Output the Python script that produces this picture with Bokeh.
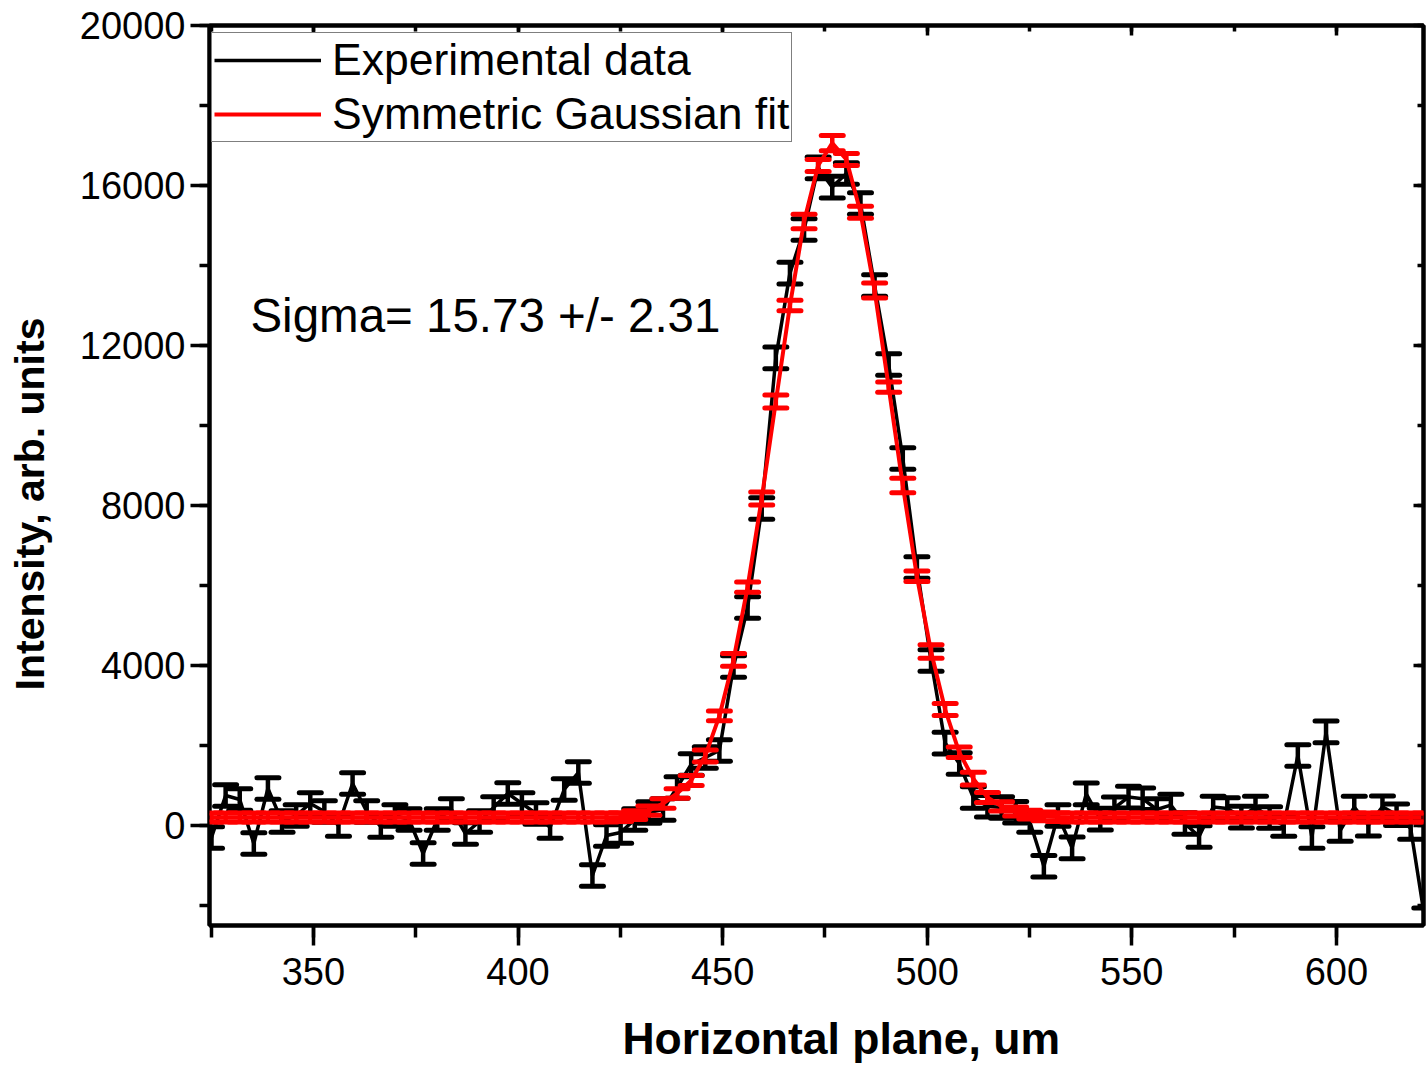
from bokeh.plotting import figure
from bokeh.models import (Range1d, LinearAxis, Whisker, TeeHead, ColumnDataSource,
                          Legend, LegendItem, Label, SingleIntervalTicker,
                          CustomJSTickFormatter)
from bokeh.embed import file_html
from bokeh.resources import INLINE

# ---------------- data ----------------
x_um = [325.09, 328.54, 331.99, 335.43, 338.88, 342.33, 345.78, 349.23, 352.67, 356.12,
        359.57, 363.02, 366.47, 369.91, 373.36, 376.81, 380.26, 383.71, 387.15, 390.60,
        394.05, 397.50, 400.95, 404.39, 407.84, 411.29, 414.74, 418.19, 421.63, 425.08,
        428.53, 431.98, 435.43, 438.87, 442.32, 445.77, 449.22, 452.67, 456.11, 459.56,
        463.01, 466.46, 469.91, 473.35, 476.80, 480.25, 483.70, 487.15, 490.59, 494.04,
        497.49, 500.94, 504.39, 507.83, 511.28, 514.73, 518.18, 521.63, 525.07, 528.52,
        531.97, 535.42, 538.87, 542.31, 545.76, 549.21, 552.66, 556.11, 559.55, 563.00,
        566.45, 569.90, 573.35, 576.79, 580.24, 583.69, 587.14, 590.59, 594.03, 597.48,
        600.93, 604.38, 607.83, 611.27, 614.72, 618.17, 621.62]

experimental = [-300, 750, 650, -450, 925, 100, 250, 550, 350, 0,
                1050, 350, -25, 250, 150, -700, 150, 400, -200, 100,
                450, 800, 550, 300, -50, 900, 1325, -1250, -250, -175,
                150, 325, 400, 950, 1525, 1700, 1875, 3975, 5450, 7925,
                11690, 13810, 14900, 16440, 15960, 16300, 15550, 13500, 11525, 9175,
                6450, 4125, 2060, 1550, 700, 480, 450, 330, 100, -1020,
                250, -560, 790, 160, 440, 710, 670, 400, 510, 50,
                -275, 460, 425, 210, 460, 200, 0, 1750, -300, 2340,
                -125, 460, 10, 470, 270, -75, -2330]
experimental_err = [270] * len(x_um)

gauss_fit = [200, 200, 200, 200, 200, 200, 200, 200, 200, 200,
             200, 200, 200, 200, 200, 200, 200, 200, 200, 200,
             200, 200, 200, 200, 200, 200, 200, 200, 200, 210,
             260, 370, 550, 800, 1125, 1740, 2740, 4140, 5960, 8175,
             10600, 13000, 15100, 16500, 17060, 16650, 15330, 13375, 10960, 8500,
             6230, 4350, 2900, 1830, 1170, 700, 480, 350, 270, 230,
             210, 200, 200, 200, 200, 200, 200, 200, 200, 200,
             200, 200, 200, 200, 200, 200, 200, 200, 200, 200,
             200, 200, 200, 200, 200, 200, 200]
gauss_err = [110, 110, 110, 110, 110, 110, 110, 110, 110, 110,
             110, 110, 110, 110, 110, 110, 110, 110, 110, 110,
             110, 110, 110, 110, 110, 110, 110, 110, 110, 110,
             110, 115, 120, 120, 125, 150, 120, 160, 130, 160,
             160, 130, 180, 150, 190, 150, 150, 190, 130, 180,
             130, 170, 150, 130, 160, 125, 115, 110, 110, 110,
             110, 110, 110, 110, 110, 110, 110, 110, 110, 110,
             110, 110, 110, 110, 110, 110, 110, 110, 110, 110,
             110, 110, 110, 110, 110, 110, 110]

x_title = "Horizontal plane, um"
y_title = "Intensity, arb. units"
legend_labels = ["Experimental data", "Symmetric Gaussian fit"]
note_text = "Sigma= 15.73 +/- 2.31"

# ---------------- figure ----------------
FONT = "Liberation Sans"
NBSP = "\u00a0"
p = figure(width=1427, height=1066, output_backend="svg", toolbar_location=None,
           x_range=Range1d(324.6, 621.3), y_range=Range1d(-2500, 20000),
           min_border_left=209, min_border_top=25, min_border_right=4,
           min_border_bottom=141)
p.grid.visible = False
p.outline_line_color = "black"
p.outline_line_width = 4
p.background_fill_color = "white"
p.border_fill_color = "white"

xt = SingleIntervalTicker(interval=50, num_minor_ticks=2)
yt = SingleIntervalTicker(interval=4000, num_minor_ticks=2)

xa = p.xaxis[0]
xa.ticker = xt
# leading no-break spaces nudge the centred title to the right, as in the original
xa.axis_label = NBSP * 4 + x_title
ya = p.yaxis[0]
ya.ticker = yt
# trailing no-break spaces nudge the rotated title downwards, as in the original
ya.axis_label = y_title + NBSP * 5

for ax in (xa, ya):
    ax.axis_line_width = 4
    ax.major_tick_line_width = 3.5
    ax.minor_tick_line_width = 3.5
    ax.major_tick_in = 0
    ax.minor_tick_in = 0
    ax.major_label_text_font = FONT
    ax.major_label_text_font_size = "38px"
    ax.major_label_text_color = "black"
    ax.axis_label_text_font = FONT
    ax.axis_label_text_font_style = "bold"
    ax.axis_label_text_color = "black"

xa.axis_label_text_font_size = "44.5px"
ya.axis_label_text_font_size = "41px"
xa.major_tick_out = 20
xa.minor_tick_out = 12
xa.major_label_standoff = 12
xa.axis_label_standoff = 26
ya.major_tick_out = 19
ya.minor_tick_out = 10
ya.major_label_standoff = 5
ya.axis_label_standoff = 24

blank = CustomJSTickFormatter(code="return ''")
top = LinearAxis(ticker=xt, formatter=blank, major_label_standoff=0,
                 major_tick_in=10, major_tick_out=0, minor_tick_in=6, minor_tick_out=0,
                 axis_line_width=4, major_tick_line_width=3.5, minor_tick_line_width=3.5)
right = LinearAxis(ticker=yt, formatter=blank, major_label_standoff=0,
                   major_tick_in=10, major_tick_out=0, minor_tick_in=6, minor_tick_out=0,
                   axis_line_width=4, major_tick_line_width=3.5, minor_tick_line_width=3.5)
p.add_layout(top, "above")
p.add_layout(right, "right")

src_e = ColumnDataSource(dict(
    x=x_um, y=experimental,
    lo=[v - e for v, e in zip(experimental, experimental_err)],
    hi=[v + e for v, e in zip(experimental, experimental_err)]))
src_g = ColumnDataSource(dict(
    x=x_um, y=gauss_fit,
    lo=[v - e for v, e in zip(gauss_fit, gauss_err)],
    hi=[v + e for v, e in zip(gauss_fit, gauss_err)]))

RED = "#ff0000"
r_e = p.line("x", "y", source=src_e, line_color="black", line_width=3.5, level="image")
w_e = Whisker(source=src_e, base="x", upper="hi", lower="lo", dimension="height",
              line_color="black", line_width=4.5, level="underlay",
              upper_head=TeeHead(size=22, line_color="black", line_width=5, line_cap="round"),
              lower_head=TeeHead(size=22, line_color="black", line_width=5, line_cap="round"))
p.add_layout(w_e)

r_g = p.line("x", "y", source=src_g, line_color=RED, line_width=4, level="glyph")
w_g = Whisker(source=src_g, base="x", upper="hi", lower="lo", dimension="height",
              line_color=RED, line_width=4.5, level="annotation",
              upper_head=TeeHead(size=22, line_color=RED, line_width=5, line_cap="round"),
              lower_head=TeeHead(size=22, line_color=RED, line_width=5, line_cap="round"))
p.add_layout(w_g)

legend = Legend(items=[LegendItem(label=legend_labels[0], renderers=[r_e]),
                       LegendItem(label=legend_labels[1], renderers=[r_g])],
                location=(2, 783), orientation="vertical",
                label_text_font=FONT, label_text_font_size="44.5px", label_text_color="black",
                glyph_width=107, glyph_height=48, label_height=48, spacing=4,
                padding=2, margin=0, label_standoff=11,
                border_line_color="black", border_line_width=1.5,
                background_fill_color="white", background_fill_alpha=1.0)
p.add_layout(legend)

p.add_layout(Label(x=334.6, y=12750, text=note_text, text_font=FONT,
                   text_font_size="47.5px", text_color="black",
                   text_baseline="alphabetic", text_align="left"))

open("out.html", "w").write(file_html(p, INLINE))
